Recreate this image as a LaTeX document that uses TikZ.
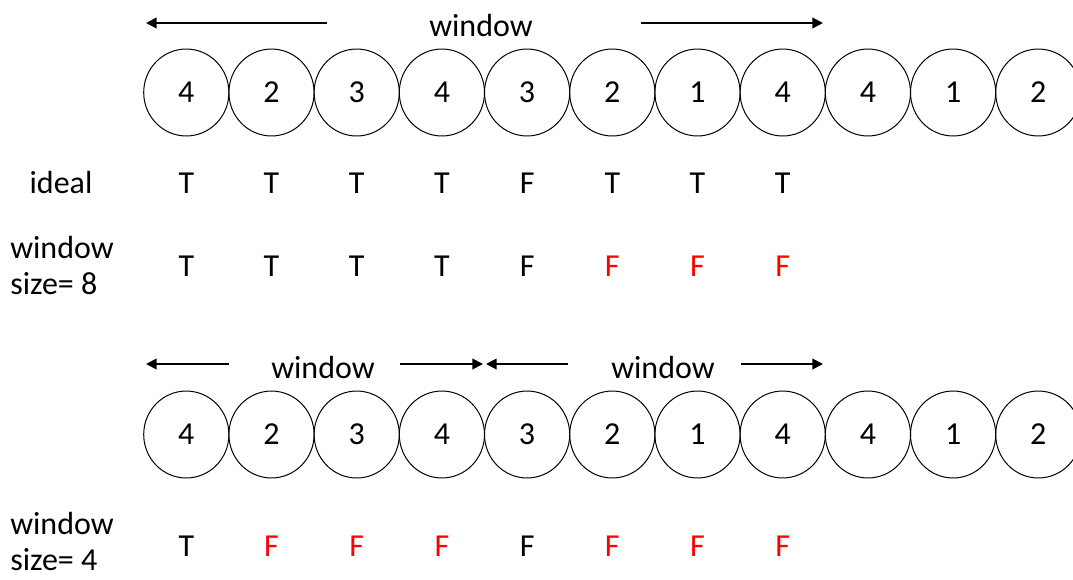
\documentclass[tikz,border=0pt]{standalone}
\usepackage{fontspec}
\setmainfont{Carlito}
\usepackage{xcolor}
\usetikzlibrary{shapes.geometric, arrows.meta, positioning}

\begin{document}
\begin{tikzpicture}[
    x=0.75pt, y=-0.75pt,
    font=\fontsize{24}{27}\selectfont,
    cell/.style={ellipse, draw=black, line width=0.75pt, minimum width=63.9pt, minimum height=65.2pt, inner sep=0pt},
    val/.style={inner sep=0pt},
    side/.style={inner sep=0pt, align=left},
    arrow/.style={line width=1.4pt, -{Triangle[length=8pt,width=8pt]}}
]
\useasboundingbox (0,0) rectangle (1073,579);

% Circles
\foreach \v [count=\i] in {4,2,3,4,3,2,1,4,4,1,2} {
  \node (a\i) [cell] at ({186.3+85.2*(\i-1)}, 92.5) {\v};
  \node (b\i) [cell] at ({186.3+85.2*(\i-1)}, 434.5) {\v};
}

% Row labels
\node (ideal) [val] at (61,183) {ideal};
\node (w8) [side, anchor=west] at (10,266) {window\\size= 8};
\node (w4) [side, anchor=west] at (10,541) {window\\size= 4};

% Values
\foreach \t/\c [count=\i] in {T/black,T/black,T/black,T/black,F/black,T/black,T/black,T/black}
  \node [val, text=\c] at (a\i |- ideal) {\t};
\foreach \t/\c [count=\i] in {T/black,T/black,T/black,T/black,F/black,F/red,F/red,F/red}
  \node [val, text=\c] at (a\i |- w8) {\t};
\foreach \t/\c [count=\i] in {T/black,F/red,F/red,F/red,F/black,F/red,F/red,F/red}
  \node [val, text=\c] at (b\i |- 0,546) {\t};

% Window labels
\node (win) [val] at (481,25) {window};
\node (winl) [val] at (323,367) {window};
\node (winr) [val] at (663,367) {window};

\coordinate (p1) at (327,23);
\coordinate (p2) at (146,23);
\coordinate (p3) at (641,23);
\coordinate (p4) at (823,23);
\coordinate (q1) at (229,364);
\coordinate (q2) at (146,364);
\coordinate (q3) at (400,364);
\coordinate (q4) at (483,364);
\coordinate (q5) at (568,364);
\coordinate (q6) at (486,364);
\coordinate (q7) at (741,364);
\coordinate (q8) at (823,364);

% Arrows
\draw [arrow] (p1) -- (p2);
\draw [arrow] (p3) -- (p4);
\draw [arrow] (q1) -- (q2);
\draw [arrow] (q3) -- (q4);
\draw [arrow] (q5) -- (q6);
\draw [arrow] (q7) -- (q8);

\end{tikzpicture}
\end{document}
